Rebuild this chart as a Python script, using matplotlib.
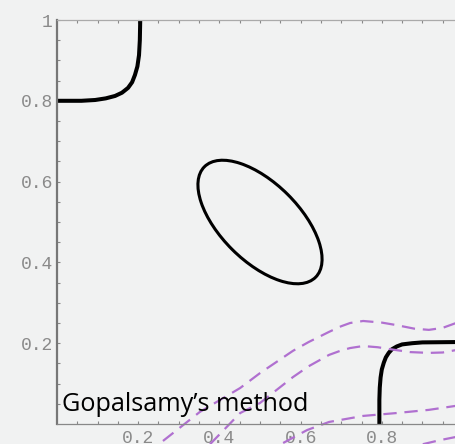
import matplotlib
matplotlib.use("Agg")
import matplotlib.pyplot as plt
from matplotlib.patches import Ellipse
import numpy as np

# black contour, top-left corner
tl_x = [0.0, 0.060, 0.094, 0.120, 0.143, 0.160, 0.175, 0.185, 0.192, 0.198, 0.202, 0.204, 0.205]
tl_y = [0.800, 0.800, 0.802, 0.806, 0.812, 0.820, 0.832, 0.846, 0.864, 0.885, 0.913, 0.950, 1.0]

# black contour, bottom-right corner
br_x = [0.794, 0.794, 0.795, 0.797, 0.800, 0.805, 0.810, 0.817, 0.825, 0.837, 0.850, 0.875, 0.900, 1.0]
br_y = [0.0, 0.060, 0.090, 0.115, 0.135, 0.152, 0.165, 0.176, 0.185, 0.192, 0.197, 0.200, 0.202, 0.203]

# black closed contour in the middle
ell_center = (0.5, 0.5)
ell_width = 0.387
ell_height = 0.193
ell_angle = 135

# purple dashed curves
a_x = [0.261, 0.352, 0.451, 0.500, 0.581, 0.620, 0.670, 0.700, 0.722, 0.754, 0.800, 0.835, 0.880, 0.916, 0.950, 0.983]
a_y = [-0.042, 0.030, 0.089, 0.126, 0.181, 0.203, 0.228, 0.242, 0.250, 0.255, 0.251, 0.245, 0.236, 0.233, 0.238, 0.250]
b_x = [0.377, 0.451, 0.500, 0.581, 0.620, 0.670, 0.700, 0.722, 0.754, 0.790, 0.835, 0.870, 0.916, 0.950, 0.983]
b_y = [-0.050, 0.027, 0.052, 0.116, 0.143, 0.171, 0.182, 0.188, 0.193, 0.190, 0.183, 0.178, 0.176, 0.177, 0.183]
c_x = [0.557, 0.616, 0.670, 0.754, 0.835, 0.916, 0.983]
c_y = [-0.047, -0.015, 0.005, 0.020, 0.027, 0.035, 0.045]
d_x = [0.901, 0.943, 0.983]
d_y = [-0.050, -0.040, -0.032]

yticks = [0.2, 0.4, 0.6, 0.8, 1.0]
ylabels = ["0.2", "0.4", "0.6", "0.8", "1"]
xticks = [0.2, 0.4, 0.6, 0.8]
xlabels = ["0.2", "0.4", "0.6", "0.8"]

bg = "#f1f2f2"
purple = "#b070d0"
axcol = "#888888"

fig = plt.figure(figsize=(4.56, 4.44), dpi=100, facecolor=bg)
ax = fig.add_axes([0, 0, 1, 1], facecolor=bg)

x0, x1 = -57 / 406, (456 - 57) / 406
y0, y1 = -20 / 404, 424 / 404
ax.set_xlim(x0, x1)
ax.set_ylim(y0, y1)

ax.plot(tl_x, tl_y, color="black", lw=2.9, solid_capstyle="butt", solid_joinstyle="round")
ax.plot(br_x, br_y, color="black", lw=2.9, solid_capstyle="butt", solid_joinstyle="round")
ax.add_patch(Ellipse(ell_center, ell_width, ell_height, angle=ell_angle,
                     fill=False, edgecolor="black", lw=2.2))

for xs, ys in [(a_x, a_y), (b_x, b_y), (c_x, c_y), (d_x, d_y)]:
    ax.plot(xs, ys, color=purple, lw=1.6, ls=(0, (6, 3.5)), clip_on=False)

ax.spines["right"].set_visible(False)
ax.spines["left"].set_position(("data", 0))
ax.spines["left"].set_bounds(0, 1)
ax.spines["left"].set_color("#777777")
ax.spines["left"].set_linewidth(1.6)
ax.spines["bottom"].set_position(("data", 0))
ax.spines["bottom"].set_bounds(0, x1)
ax.spines["bottom"].set_color(axcol)
ax.spines["bottom"].set_linewidth(0.9)
ax.spines["top"].set_position(("data", 1))
ax.spines["top"].set_bounds(0, x1)
ax.spines["top"].set_color("#aaaaaa")
ax.spines["top"].set_linewidth(0.9)

ax.set_xticks(xticks)
ax.set_xticklabels(xlabels)
ax.set_xticks(np.arange(0.05, 1.0, 0.05), minor=True)
ax.set_yticks(yticks)
ax.set_yticklabels(ylabels)
ax.set_yticks(np.arange(0.05, 1.0, 0.05), minor=True)
ax.xaxis.set_ticks_position("both")
ax.tick_params(axis="both", which="both", direction="in", color=axcol,
               length=2.2, width=0.8, labelcolor="#8a8a8a", labelsize=13)
ax.tick_params(axis="x", pad=4, labeltop=False)
ax.tick_params(axis="y", pad=3)
for lab in ax.get_xticklabels() + ax.get_yticklabels():
    lab.set_family("Liberation Mono")

ax.text(0.012, 0.032, "Gopalsamy\u2019s method", family="Open Sans",
        fontsize=18.2, color="black", va="baseline", ha="left")

fig.savefig("out.png", dpi=100, facecolor=bg)
